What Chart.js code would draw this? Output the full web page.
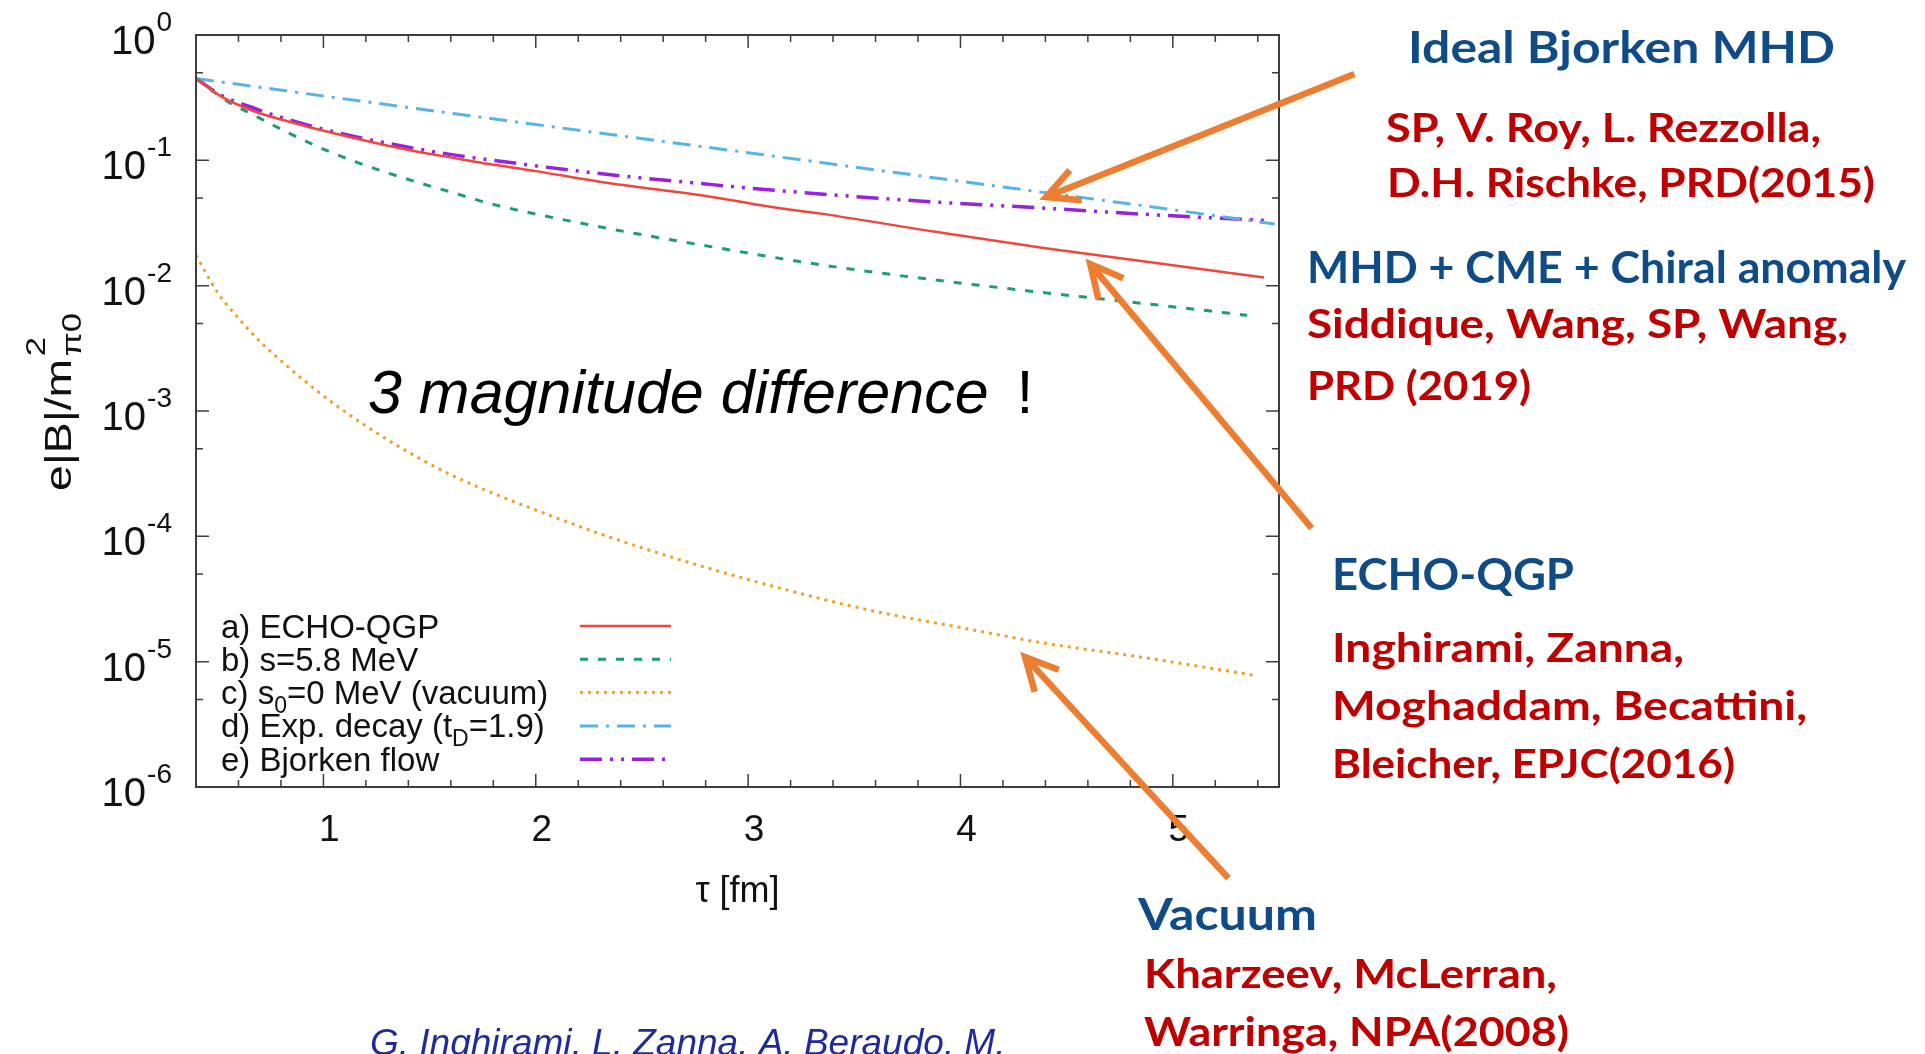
<!DOCTYPE html>
<html>
<head>
<meta charset="utf-8">
<title>Magnetic field decay in heavy-ion collisions</title>
<script src="https://cdn.jsdelivr.net/npm/chart.js@4.4.1/dist/chart.umd.min.js"></script>
<style>
  html, body { margin: 0; padding: 0; background: #fff; overflow: hidden; }
  #wrap { position: relative; width: 1925px; height: 1054px; }
</style>
</head>
<body>
<div id="wrap"><canvas id="bfield" width="1925" height="1054"></canvas></div>
<script>
// e|B|/m_pi^2 against proper time tau [fm], one pair of arrays per model
var echoTau = [0.4, 0.52, 0.68, 0.84, 1.0, 1.15, 1.31, 1.47, 1.62, 1.78, 2.0, 2.3, 2.83, 3.15, 3.35, 3.88, 4.4, 4.93, 5.43];
var echoB   = [0.45, 0.322, 0.244, 0.203, 0.172, 0.150, 0.130, 0.115, 0.104, 0.0934, 0.082, 0.0675, 0.051, 0.0414, 0.0374, 0.0269, 0.0199, 0.0151, 0.0116];

var condTau = [0.4, 0.46, 0.55, 0.68, 0.84, 0.99, 1.15, 1.31, 1.47, 1.62, 1.78, 2.3, 2.83, 3.35, 3.88, 4.4, 4.93, 5.35];
var condB   = [0.45, 0.376, 0.294, 0.226, 0.164, 0.125, 0.0975, 0.0787, 0.0647, 0.0546, 0.0454, 0.0295, 0.0204, 0.0146, 0.0111, 0.00877, 0.0070, 0.0058];

var vacTau = [0.4, 0.5, 0.6, 0.7, 0.84, 1.0, 1.2, 1.4, 1.6, 1.8, 2.0, 2.3, 2.72, 3.14, 3.56, 3.98, 4.4, 4.83, 5.38];
var vacB   = [0.0175, 0.0089, 0.0055, 0.0036, 0.0022, 0.00132, 7.6e-4, 4.7e-4, 3.1e-4, 2.2e-4, 1.62e-4, 1.05e-4, 6.2e-5, 3.9e-5, 2.6e-5, 1.9e-5, 1.4e-5, 1.1e-5, 7.8e-6];

var expTau = [0.4, 1, 2, 3, 4, 5, 5.48];
var expB   = [0.45, 0.326, 0.193, 0.115, 0.068, 0.0403, 0.031];

var bjTau = [0.4, 0.52, 0.68, 0.84, 1.0, 1.31, 1.62, 1.78, 2.3, 2.83, 3.15, 3.88, 4.4, 4.93, 5.46];
var bjB   = [0.45, 0.33, 0.258, 0.210, 0.177, 0.136, 0.110, 0.101, 0.0785, 0.0640, 0.0572, 0.0465, 0.0415, 0.0366, 0.0330];

var seriesLabels = ['a) ECHO-QGP', 'b) s=5.8 MeV', 'c) s_0=0 MeV (vacuum)', 'd) Exp. decay (t_D=1.9)', 'e) Bjorken flow'];
var tauTicks = [1, 2, 3, 4, 5];
var fieldDecades = [1e0, 1e-1, 1e-2, 1e-3, 1e-4, 1e-5, 1e-6];

var SANS = '"Liberation Sans", Arial, Helvetica, sans-serif';
var SLIDE = 'Lato, "Open Sans", sans-serif';
var frameColor = '#3e3e3e';
var orange = '#ed7d31';
var blue = '#0f4c87';
var red = '#c00000';

// reference papers next to the plot (left x, baseline y, width to fill)
var notes = [
  { text: 'Ideal Bjorken MHD', x: 1408, y: 63, w: 427, head: true },
  { text: 'SP, V. Roy, L. Rezzolla,', x: 1386, y: 142, w: 435 },
  { text: 'D.H. Rischke, PRD(2015)', x: 1387, y: 197, w: 488 },
  { text: 'MHD + CME + Chiral anomaly', x: 1307, y: 283, w: 599, head: true },
  { text: 'Siddique, Wang, SP, Wang,', x: 1307, y: 338, w: 541 },
  { text: 'PRD (2019)', x: 1307, y: 400, w: 224 },
  { text: 'ECHO-QGP', x: 1332, y: 590, w: 242, head: true },
  { text: 'Inghirami, Zanna,', x: 1332, y: 662, w: 352 },
  { text: 'Moghaddam, Becattini,', x: 1332, y: 720, w: 475 },
  { text: 'Bleicher, EPJC(2016)', x: 1332, y: 778, w: 403 },
  { text: 'Vacuum', x: 1138, y: 930, w: 179, head: true },
  { text: 'Kharzeev, McLerran,', x: 1144, y: 988, w: 413 },
  { text: 'Warringa, NPA(2008)', x: 1144, y: 1046, w: 425 }
];

// arrows from the labels to the curves, given as (tau, B) pairs: tail then tip
var pointers = [
  [[5.855, 0.489], [4.403, 0.0509]],
  [[5.654, 1.16e-4], [4.611, 0.01487]],
  [[5.262, 1.87e-7], [4.304, 1.087e-5]]
];

function pairs(t, b) {
  return t.map(function (v, i) { return { x: v, y: b[i] }; });
}

// text with gnuplot-like "_X" subscripts
function drawSubbed(ctx, text, x, y, size, subSize, drop) {
  var parts = text.split(/_(.)/);
  for (var i = 0; i < parts.length; i++) {
    var sub = i % 2 === 1;
    ctx.font = (sub ? subSize : size) + 'px ' + SANS;
    ctx.fillText(parts[i], x, sub ? y + drop : y);
    x += ctx.measureText(parts[i]).width;
  }
  return x;
}

function arrow(ctx, x1, y1, x2, y2) {
  var ang = Math.atan2(y2 - y1, x2 - x1);
  var head = 36, spread = 0.47;
  ctx.beginPath();
  ctx.moveTo(x1, y1);
  ctx.lineTo(x2, y2);
  ctx.moveTo(x2 - head * Math.cos(ang - spread), y2 - head * Math.sin(ang - spread));
  ctx.lineTo(x2, y2);
  ctx.lineTo(x2 - head * Math.cos(ang + spread), y2 - head * Math.sin(ang + spread));
  ctx.stroke();
}

var decorations = {
  id: 'decorations',
  afterDraw: function (chart) {
    var ctx = chart.ctx, area = chart.chartArea;
    var xs = chart.scales.x, ys = chart.scales.y;
    ctx.save();

    // frame with inward ticks on all four sides
    ctx.strokeStyle = frameColor;
    ctx.lineWidth = 2;
    ctx.strokeRect(area.left, area.top, area.right - area.left, area.bottom - area.top);
    ctx.lineWidth = 1.5;
    ctx.beginPath();
    for (var k = 3; k <= 27; k++) {
      var v = k * 0.2;
      var len = Math.abs(v - Math.round(v)) < 1e-6 ? 13 : 7;
      var px = xs.getPixelForValue(v);
      ctx.moveTo(px, area.bottom); ctx.lineTo(px, area.bottom - len);
      ctx.moveTo(px, area.top); ctx.lineTo(px, area.top + len);
    }
    fieldDecades.forEach(function (d) {
      var py = ys.getPixelForValue(d);
      ctx.moveTo(area.left, py); ctx.lineTo(area.left + 13, py);
      ctx.moveTo(area.right, py); ctx.lineTo(area.right - 13, py);
      if (d < 1) {
        var pm = ys.getPixelForValue(d * 5);
        ctx.moveTo(area.left, pm); ctx.lineTo(area.left + 7, pm);
        ctx.moveTo(area.right, pm); ctx.lineTo(area.right - 7, pm);
      }
    });
    ctx.stroke();

    // decade labels 10^n
    ctx.fillStyle = '#111';
    ctx.textBaseline = 'alphabetic';
    fieldDecades.forEach(function (d) {
      var py = ys.getPixelForValue(d);
      var ex = String(Math.round(Math.log10(d)));
      ctx.font = '28px ' + SANS;
      var ew = ctx.measureText(ex).width;
      ctx.fillText(ex, 172 - ew, py - 4);
      ctx.font = '40px ' + SANS;
      var bw = ctx.measureText('10').width;
      ctx.fillText('10', 172 - ew - 1 - bw, py + 19);
    });

    // y axis title e|B|/m^2_pi0, stretched along its length
    ctx.save();
    ctx.translate(71, 402);
    ctx.rotate(-Math.PI / 2);
    ctx.font = '36px ' + SANS;
    var mw = ctx.measureText('e|B|/m').width;
    ctx.font = '27px ' + SANS;
    var sw = ctx.measureText('\u03c00').width;
    ctx.scale(178 / (mw + sw + 2), 1);
    var x0 = -(mw + sw + 2) / 2;
    ctx.font = '36px ' + SANS;
    ctx.fillText('e|B|/m', x0, 0);
    ctx.font = '27px ' + SANS;
    ctx.fillText('2', x0 + mw + 2, -26);
    ctx.fillText('\u03c00', x0 + mw + 2, 10);
    ctx.restore();

    // key inside the frame
    chart.data.datasets.forEach(function (ds, i) {
      var cy = area.top + 591 + i * 33.3;
      ctx.fillStyle = '#111';
      drawSubbed(ctx, ds.label, area.left + 25, cy + 11.5, 33, 23, 9);
      ctx.save();
      ctx.strokeStyle = ds.borderColor;
      ctx.lineWidth = ds.borderWidth;
      ctx.setLineDash(ds.borderDash || []);
      ctx.beginPath();
      ctx.moveTo(area.left + 384, cy);
      ctx.lineTo(area.left + 475, cy);
      ctx.stroke();
      ctx.restore();
    });

    // remark inside the plot
    ctx.fillStyle = '#000';
    ctx.font = 'italic 61px ' + SANS;
    var rem = '3 magnitude difference';
    var rw = ctx.measureText(rem).width;
    ctx.fillText(rem, 368, 413);
    ctx.font = '61px ' + SANS;
    ctx.fillText('!', 368 + rw + 28, 413);

    // arrows
    ctx.strokeStyle = orange;
    ctx.lineWidth = 6.5;
    ctx.lineCap = 'butt';
    ctx.lineJoin = 'miter';
    pointers.forEach(function (p) {
      arrow(ctx,
        xs.getPixelForValue(p[0][0]), ys.getPixelForValue(p[0][1]),
        xs.getPixelForValue(p[1][0]), ys.getPixelForValue(p[1][1]));
    });

    // references, stretched to the width of the slide text
    notes.forEach(function (n) {
      ctx.fillStyle = n.head ? blue : red;
      ctx.font = 'bold ' + (n.head ? 44 : 40) + 'px ' + SLIDE;
      var nw = ctx.measureText(n.text).width;
      ctx.save();
      ctx.translate(n.x, n.y);
      ctx.scale(n.w / nw, 1);
      ctx.fillText(n.text, 0, 0);
      ctx.restore();
    });

    ctx.fillStyle = '#1f2a9c';
    ctx.font = 'italic 37px ' + SANS;
    ctx.fillText('G. Inghirami, L. Zanna, A. Beraudo, M.', 370, 1055);

    ctx.restore();
  }
};

var ctx = document.getElementById('bfield');

new Chart(ctx, {
  type: 'line',
  data: {
    datasets: [{
      label: seriesLabels[0],
      data: pairs(echoTau, echoB),
      borderColor: '#f0463c',
      borderWidth: 2.5
    }, {
      label: seriesLabels[1],
      data: pairs(condTau, condB),
      borderColor: '#1a9e76',
      borderWidth: 3,
      borderDash: [8, 10]
    }, {
      label: seriesLabels[2],
      data: pairs(vacTau, vacB),
      borderColor: '#eba22a',
      borderWidth: 3,
      borderDash: [3, 5]
    }, {
      label: seriesLabels[3],
      data: pairs(expTau, expB),
      borderColor: '#56b4e9',
      borderWidth: 3,
      borderDash: [18, 8, 3, 8]
    }, {
      label: seriesLabels[4],
      data: pairs(bjTau, bjB),
      borderColor: '#9a20dc',
      borderWidth: 3.5,
      borderDash: [22, 8, 3, 8, 3, 8]
    }]
  },
  options: {
    responsive: false,
    animation: false,
    elements: {
      point: { radius: 0 },
      line: { fill: false, cubicInterpolationMode: 'monotone' }
    },
    layout: {
      padding: { left: 0, top: 35, right: 646, bottom: 140.6 }
    },
    plugins: {
      legend: { display: false },
      tooltip: { enabled: false }
    },
    scales: {
      x: {
        type: 'linear',
        min: 0.4,
        max: 5.5,
        grid: { display: false, drawTicks: false },
        border: { display: false },
        afterBuildTicks: function (scale) {
          scale.ticks = tauTicks.map(function (v) { return { value: v }; });
        },
        afterFit: function (scale) { scale.height = 1054 - 140.6 - 787; },
        ticks: {
          padding: 22,
          labelOffset: 6,
          color: '#111',
          font: { family: SANS, size: 37 },
          callback: function (v) { return String(v); }
        },
        title: {
          display: true,
          text: '\u03c4 [fm]',
          color: '#111',
          padding: 0,
          font: { family: SANS, size: 36 }
        }
      },
      y: {
        type: 'logarithmic',
        min: 1e-6,
        max: 1,
        grid: { display: false, drawTicks: false },
        border: { display: false },
        ticks: { display: false },
        afterFit: function (scale) { scale.width = 196; }
      }
    }
  },
  plugins: [decorations]
});
</script>
</body>
</html>
